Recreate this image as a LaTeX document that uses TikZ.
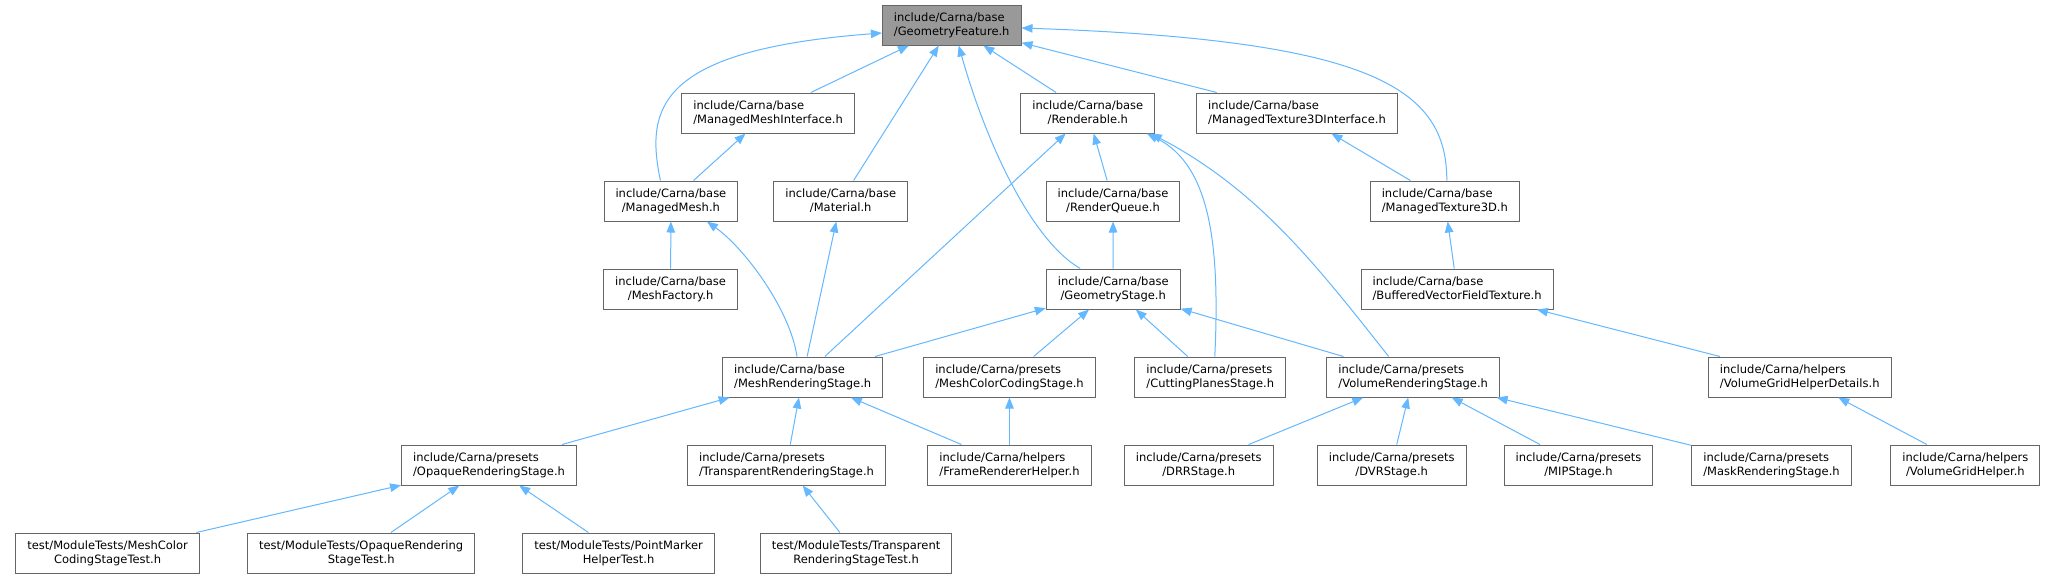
\documentclass[tikz,border=0pt]{standalone}
\usepackage{fontspec}
\setmainfont{DejaVu Sans}
\usetikzlibrary{arrows.meta}
\definecolor{edgeblue}{HTML}{63B8FF}
\definecolor{boxgray}{HTML}{666666}
\definecolor{rootfill}{HTML}{999999}
\begin{document}
\begin{tikzpicture}[x=1pt,y=1pt,
  fnode/.style={draw=boxgray, line width=1pt, fill=white, minimum height=40pt,
    inner xsep=11.5pt, inner ysep=3pt, font=\fontsize{11.5}{14.3}\selectfont, align=center},
  lnode/.style={fnode, align=left},
  rootnode/.style={lnode, fill=rootfill},
  edge/.style={draw=edgeblue, line width=1pt, -{Triangle[length=11pt,width=8.5pt]}}]
\fill[white] (0,0) rectangle (2052,-579);
\useasboundingbox (0,0) rectangle (2052,-579);

% row 1
\node[rootnode] (GF) at (951.7,-25) {include/Carna/base\\/GeometryFeature.h};
% row 2
\node[lnode] (MMI) at (768.1,-113) {include/Carna/base\\/ManagedMeshInterface.h};
\node[fnode] (Rend) at (1087.8,-113) {include/Carna/base\\/Renderable.h};
\node[lnode] (MT3DI) at (1297,-113) {include/Carna/base\\/ManagedTexture3DInterface.h};
% row 3
\node[fnode] (MM) at (670.9,-201) {include/Carna/base\\/ManagedMesh.h};
\node[fnode] (Mat) at (840.7,-201) {include/Carna/base\\/Material.h};
\node[fnode] (RQ) at (1113,-201) {include/Carna/base\\/RenderQueue.h};
\node[lnode] (MT3D) at (1444.8,-201) {include/Carna/base\\/ManagedTexture3D.h};
% row 4
\node[fnode] (MF) at (670.6,-289) {include/Carna/base\\/MeshFactory.h};
\node[fnode] (GS) at (1113.2,-289) {include/Carna/base\\/GeometryStage.h};
\node[lnode] (BVFT) at (1457.1,-289) {include/Carna/base\\/BufferedVectorFieldTexture.h};
% row 5
\node[lnode] (MRS) at (802.7,-377) {include/Carna/base\\/MeshRenderingStage.h};
\node[lnode] (MCCS) at (1009.5,-377) {include/Carna/presets\\/MeshColorCodingStage.h};
\node[lnode] (CPS) at (1210.3,-377) {include/Carna/presets\\/CuttingPlanesStage.h};
\node[lnode] (VRS) at (1413.2,-377) {include/Carna/presets\\/VolumeRenderingStage.h};
\node[lnode] (VGHD) at (1799.7,-377) {include/Carna/helpers\\/VolumeGridHelperDetails.h};
% row 6
\node[lnode] (ORS) at (489,-465) {include/Carna/presets\\/OpaqueRenderingStage.h};
\node[lnode] (TRS) at (786.5,-465) {include/Carna/presets\\/TransparentRenderingStage.h};
\node[lnode] (FRH) at (1009.5,-465) {include/Carna/helpers\\/FrameRendererHelper.h};
\node[fnode] (DRR) at (1198.7,-465) {include/Carna/presets\\/DRRStage.h};
\node[fnode] (DVR) at (1391.7,-465) {include/Carna/presets\\/DVRStage.h};
\node[fnode] (MIP) at (1578.5,-465) {include/Carna/presets\\/MIPStage.h};
\node[lnode] (MaskRS) at (1771.5,-465) {include/Carna/presets\\/MaskRenderingStage.h};
\node[fnode] (VGH) at (1965.4,-465) {include/Carna/helpers\\/VolumeGridHelper.h};
% row 7
\node[fnode] (T1) at (107.6,-553) {test/ModuleTests/MeshColor\\CodingStageTest.h};
\node[fnode] (T2) at (361.2,-553) {test/ModuleTests/OpaqueRendering\\StageTest.h};
\node[fnode] (T3) at (618.6,-553) {test/ModuleTests/PointMarker\\HelperTest.h};
\node[fnode] (T4) at (856.1,-553) {test/ModuleTests/Transparent\\RenderingStageTest.h};

% curved edges
\draw[edge] ([xshift=-10.5pt]MM.north) .. controls +(-15,72) and +(-225,-17) .. ([yshift=-8pt]GF.west);
\draw[edge] ([xshift=-33pt]GS.north) .. controls +(-50,29) and +(26.4,-94) .. ([xshift=7pt]GF.south);
\draw[edge] ([xshift=2pt]MT3D.north) .. controls +(0,92) and +(352,-12) .. ([yshift=-3pt]GF.east);
\draw[edge] ([xshift=4.5pt]CPS.north) .. controls +(5,107) and +(65,-32) .. ([xshift=59pt]Rend.south);
\draw[edge] ([xshift=-24.5pt]VRS.north) .. controls +(-69,87) and +(109,-57) .. ([xshift=63pt]Rend.south);
\draw[edge] ([xshift=-5.7pt]MRS.north) .. controls +(-7,47) and +(38,-27) .. ([xshift=36pt]MM.south);

% straight edges
\draw[edge] (MMI) -- (GF);
\draw[edge] (Mat) -- (GF);
\draw[edge] (Rend) -- (GF);
\draw[edge] (MT3DI) -- (GF);
\draw[edge] (MM) -- (MMI);
\draw[edge] (MRS) -- (Rend);
\draw[edge] (RQ) -- (Rend);
\draw[edge] (MT3D) -- (MT3DI);
\draw[edge] (MF) -- (MM);
\draw[edge] (MRS) -- (Mat);
\draw[edge] (GS) -- (RQ);
\draw[edge] (BVFT) -- (MT3D);
\draw[edge] (MRS) -- (GS);
\draw[edge] (MCCS) -- (GS);
\draw[edge] (CPS) -- (GS);
\draw[edge] (VRS) -- (GS);
\draw[edge] (VGHD) -- (BVFT);
\draw[edge] (ORS) -- (MRS);
\draw[edge] (TRS) -- (MRS);
\draw[edge] (FRH) -- (MRS);
\draw[edge] (FRH) -- (MCCS);
\draw[edge] (DRR) -- (VRS);
\draw[edge] (DVR) -- (VRS);
\draw[edge] (MIP) -- (VRS);
\draw[edge] (MaskRS) -- (VRS);
\draw[edge] (VGH) -- (VGHD);
\draw[edge] (T1) -- (ORS);
\draw[edge] (T2) -- (ORS);
\draw[edge] (T3) -- (ORS);
\draw[edge] (T4) -- (TRS);
\end{tikzpicture}
\end{document}
